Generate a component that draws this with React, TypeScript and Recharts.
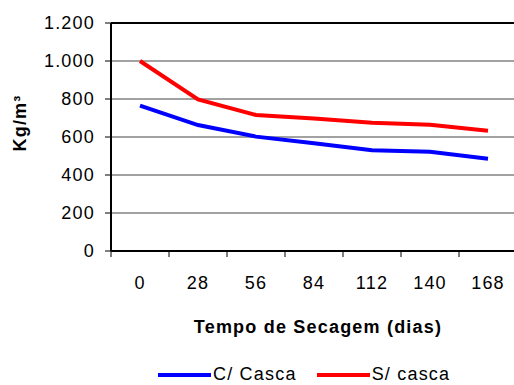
import React from 'react';
import { LineChart, Line, XAxis, YAxis, CartesianGrid, ReferenceLine, Legend } from 'recharts';

const dias = ['0', '28', '56', '84', '112', '140', '168'];
const comCasca = [765, 663, 602, 567, 530, 522, 485];
const semCasca = [1000, 798, 716, 698, 675, 665, 633];
const yTicks = [0, 200, 400, 600, 800, 1000, 1200];

const data = dias.map((d, i) => ({ dia: d, cCasca: comCasca[i], sCasca: semCasca[i] }));

const FONT = '"Liberation Sans", Arial, sans-serif';
const SPACING = 1.2;

const fmt = (v: number) => String(v).replace(/\B(?=(\d{3})+(?!\d))/g, '.');

// category tick: label in the middle of the band, tick mark on the band edge
const DiaTick = (props: any) => {
    const { x, y, payload, width, visibleTicksCount, index } = props;
    const band = width / visibleTicksCount;
    const left = x - band / 2;
    return (
        <g>
            <line x1={left} y1={y} x2={left} y2={y + 6} stroke="#000" />
            {index === visibleTicksCount - 1 && (
                <line x1={left + band} y1={y} x2={left + band} y2={y + 6} stroke="#000" />
            )}
            <text x={x} y={y + 38} textAnchor="middle" fontSize={18} letterSpacing={SPACING} fill="#000">
                {payload.value}
            </text>
        </g>
    );
};

const LegendBox = () => (
    <div style={{ display: 'flex', alignItems: 'center', fontSize: 18, letterSpacing: SPACING, color: '#000', whiteSpace: 'nowrap' }}>
        <svg width={53} height={6}><line x1={0} y1={3} x2={53} y2={3} stroke="#0000ff" strokeWidth={4} /></svg>
        <span style={{ marginLeft: 2, marginRight: 20 }}>C/ Casca</span>
        <svg width={53} height={6}><line x1={0} y1={3} x2={53} y2={3} stroke="#ff0000" strokeWidth={4} /></svg>
        <span style={{ marginLeft: 2 }}>S/ casca</span>
    </div>
);

export default function App() {
    return (
        <div style={{ position: 'absolute', left: 0, top: 0, width: 514, height: 385, overflow: 'hidden', background: '#fff', fontFamily: FONT }}>
            <LineChart width={520} height={385} data={data} margin={{ top: 23, right: 3, bottom: 0, left: 0 }}>
                <CartesianGrid vertical={false} stroke="#444" />
                <ReferenceLine y={1200} stroke="#000" strokeWidth={2} />
                <XAxis
                    dataKey="dia"
                    scale="band"
                    height={134}
                    axisLine={{ stroke: '#000', strokeWidth: 2 }}
                    tickLine={false}
                    tickSize={0}
                    tickMargin={0}
                    interval={0}
                    tick={<DiaTick />}
                    label={{
                        content: () => (
                            <text x={318} y={333} textAnchor="middle" fontSize={18} fontWeight="bold" letterSpacing={SPACING} fill="#000">
                                Tempo de Secagem (dias)
                            </text>
                        ),
                    }}
                />
                <YAxis
                    width={111}
                    domain={[0, 1200]}
                    ticks={yTicks}
                    interval={0}
                    tickFormatter={fmt}
                    axisLine={{ stroke: '#000', strokeWidth: 2 }}
                    tickLine={{ stroke: '#000' }}
                    tickSize={6}
                    tickMargin={10}
                    tick={{ fill: '#000', fontSize: 18, letterSpacing: SPACING }}
                    label={{
                        content: () => (
                            <text x={26} y={123} transform="rotate(-90, 26, 123)" textAnchor="middle" fontSize={18} fontWeight="bold" letterSpacing={SPACING} fill="#000">
                                Kg/m³
                            </text>
                        ),
                    }}
                />
                <Legend
                    layout="horizontal"
                    verticalAlign="middle"
                    align="center"
                    content={<LegendBox />}
                    wrapperStyle={{ position: 'absolute', left: 158, top: 364, width: 'auto' }}
                />
                <Line dataKey="cCasca" name="C/ Casca" stroke="#0000ff" strokeWidth={4} dot={false} isAnimationActive={false} />
                <Line dataKey="sCasca" name="S/ casca" stroke="#ff0000" strokeWidth={4} dot={false} isAnimationActive={false} />
            </LineChart>
        </div>
    );
}
